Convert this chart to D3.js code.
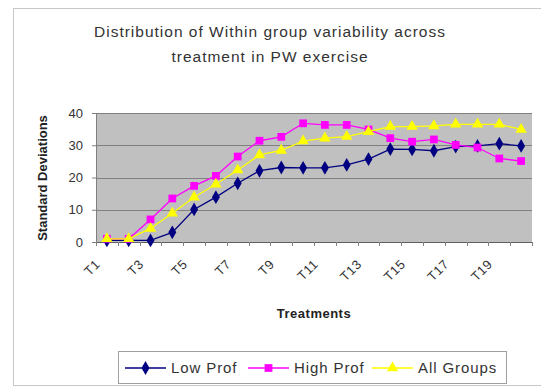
<!DOCTYPE html>
<html>
<head>
<meta charset="utf-8">
<script src="https://cdn.jsdelivr.net/npm/d3@7/dist/d3.min.js"></script>
<style>
  html, body { margin: 0; padding: 0; background: #ffffff; }
  svg { display: block; font-family: "Liberation Sans", Arial, sans-serif; }
</style>
</head>
<body>
<svg id="chart" width="541" height="387"></svg>
<script>
// Treatment labels T1..T20
const categories = ["T1","T2","T3","T4","T5","T6","T7","T8","T9","T10",
                    "T11","T12","T13","T14","T15","T16","T17","T18","T19","T20"];
// Standard deviation per treatment, one array per group
const lowProf  = [0.5, 0.5, 0.5, 3, 10.1, 13.9, 18.2, 22.1, 23.1, 23, 23, 23.9, 25.7, 28.8, 28.7, 28.3, 29.6, 29.8, 30.5, 29.8];
const highProf = [1, 1, 7, 13.5, 17.4, 20.5, 26.5, 31.4, 32.6, 36.8, 36.3, 36.3, 34.9, 32.2, 31.1, 31.8, 30.1, 29.3, 25.9, 25.1];
const allGroups = [1, 1, 4.2, 8.9, 13.9, 17.9, 22.3, 27, 28.4, 31.3, 32.2, 32.7, 34.2, 35.8, 35.8, 36, 36.5, 36.5, 36.5, 34.9];
const yTicks = [0, 10, 20, 30, 40];
const seriesNames = ["Low Prof", "High Prof", "All Groups"];

const series = [
  { name: seriesNames[0], values: lowProf,  color: "#000080", marker: "diamond" },
  { name: seriesNames[1], values: highProf, color: "#ff00ff", marker: "square" },
  { name: seriesNames[2], values: allGroups, color: "#ffff00", marker: "triangle" }
];

const svg = d3.select("#chart");

// outer chart frame
svg.append("rect")
  .attr("x", 13.5).attr("y", 8.5).attr("width", 540).attr("height", 377)
  .attr("fill", "none").attr("stroke", "#c8c8c8");

// title
const title = svg.append("text")
  .attr("text-anchor", "middle").attr("fill", "#333")
  .style("font-size", "15.5px").style("letter-spacing", "1px");
title.append("tspan").attr("x", 270).attr("y", 37).text("Distribution of Within group variability across");
title.append("tspan").attr("x", 270).attr("y", 62).text("treatment in PW exercise");

const plot = { left: 96, top: 113, right: 532, bottom: 242 };

const x = d3.scaleBand().domain(categories).range([plot.left, plot.right]);
const y = d3.scaleLinear().domain([0, 40]).range([plot.bottom, plot.top]);

// plot background
svg.append("rect")
  .attr("x", plot.left).attr("y", plot.top)
  .attr("width", plot.right - plot.left).attr("height", plot.bottom - plot.top)
  .attr("fill", "#c0c0c0");

// horizontal gridlines
svg.append("g").selectAll("line")
  .data(yTicks.filter(d => d > 0))
  .join("line")
  .attr("x1", plot.left).attr("x2", plot.right)
  .attr("y1", d => Math.round(y(d)) + 0.5).attr("y2", d => Math.round(y(d)) + 0.5)
  .attr("stroke", "#808080");

// y axis
const yAxis = svg.append("g")
  .attr("transform", `translate(${plot.left},0)`)
  .call(d3.axisLeft(y).tickValues(yTicks).tickSize(4).tickPadding(9));
yAxis.select(".domain").attr("stroke", "#808080");
yAxis.selectAll(".tick line").attr("stroke", "#808080");
yAxis.selectAll(".tick text").attr("fill", "#333").style("font-size", "13px").attr("font-family", null);

// x axis: ticks on band boundaries, labels on every other treatment
const xAxis = svg.append("g")
  .attr("transform", `translate(0,${plot.bottom})`)
  .call(d3.axisBottom(x).tickSize(0).tickFormat(""));
xAxis.select(".domain").attr("stroke", "#606060");
xAxis.selectAll(".tick").remove();
xAxis.selectAll("line.bnd")
  .data(categories.concat([null]))
  .join("line")
  .attr("class", "bnd")
  .attr("x1", (d, i) => Math.round(plot.left + i * x.step()) + 0.5)
  .attr("x2", (d, i) => Math.round(plot.left + i * x.step()) + 0.5)
  .attr("y1", 0).attr("y2", 4)
  .attr("stroke", "#808080");

svg.append("g").selectAll("text")
  .data(categories.filter((d, i) => i % 2 === 0))
  .join("text")
  .attr("transform", d => `translate(${x(d) + x.bandwidth() / 2 - 6},${plot.bottom + 23}) rotate(-45)`)
  .attr("text-anchor", "end")
  .attr("fill", "#333")
  .style("font-size", "13px")
  .style("letter-spacing", "0.5px")
  .text(d => d);

// axis titles
svg.append("text")
  .attr("transform", `translate(47,178) rotate(-90)`)
  .attr("text-anchor", "middle").attr("fill", "#222")
  .style("font-size", "13px").style("font-weight", "bold")
  .text("Standard Deviations");
svg.append("text")
  .attr("x", (plot.left + plot.right) / 2).attr("y", 318)
  .attr("text-anchor", "middle").attr("fill", "#222")
  .style("font-size", "13px").style("font-weight", "bold")
  .style("letter-spacing", "0.5px")
  .text("Treatments");

// marker shapes
const symbolFor = m => m === "diamond" ? d3.symbol(d3.symbolDiamond, 55)
                  : m === "square" ? d3.symbol(d3.symbolSquare, 60)
                  : d3.symbol(d3.symbolTriangle, 56);

const line = d3.line()
  .x((d, i) => x(categories[i]) + x.bandwidth() / 2)
  .y(d => y(d));

const gSeries = svg.append("g");
series.forEach(s => {
  gSeries.append("path")
    .attr("d", line(s.values))
    .attr("fill", "none").attr("stroke", s.color).attr("stroke-width", 1.3);
  gSeries.append("g").selectAll("path")
    .data(s.values)
    .join("path")
    .attr("transform", (d, i) => `translate(${x(categories[i]) + x.bandwidth() / 2},${y(d)})`)
    .attr("d", symbolFor(s.marker)())
    .attr("fill", s.color);
});

// legend
const legend = svg.append("g");
legend.append("rect")
  .attr("x", 118.5).attr("y", 351.5).attr("width", 388).attr("height", 32)
  .attr("fill", "#fff").attr("stroke", "#a0a0a0");
const legendX = [125, 248, 372];
series.forEach((s, i) => {
  const g = legend.append("g").attr("transform", `translate(${legendX[i]},368)`);
  g.append("line").attr("x1", 0).attr("x2", 41).attr("y1", 0).attr("y2", 0)
    .attr("stroke", s.color).attr("stroke-width", 1.3);
  g.append("path").attr("transform", "translate(20.5,0)")
    .attr("d", symbolFor(s.marker)()).attr("fill", s.color);
  g.append("text").attr("x", 46).attr("y", 5)
    .attr("fill", "#333").style("font-size", "15px")
    .style("letter-spacing", "0.9px")
    .text(s.name);
});
</script>
</body>
</html>
